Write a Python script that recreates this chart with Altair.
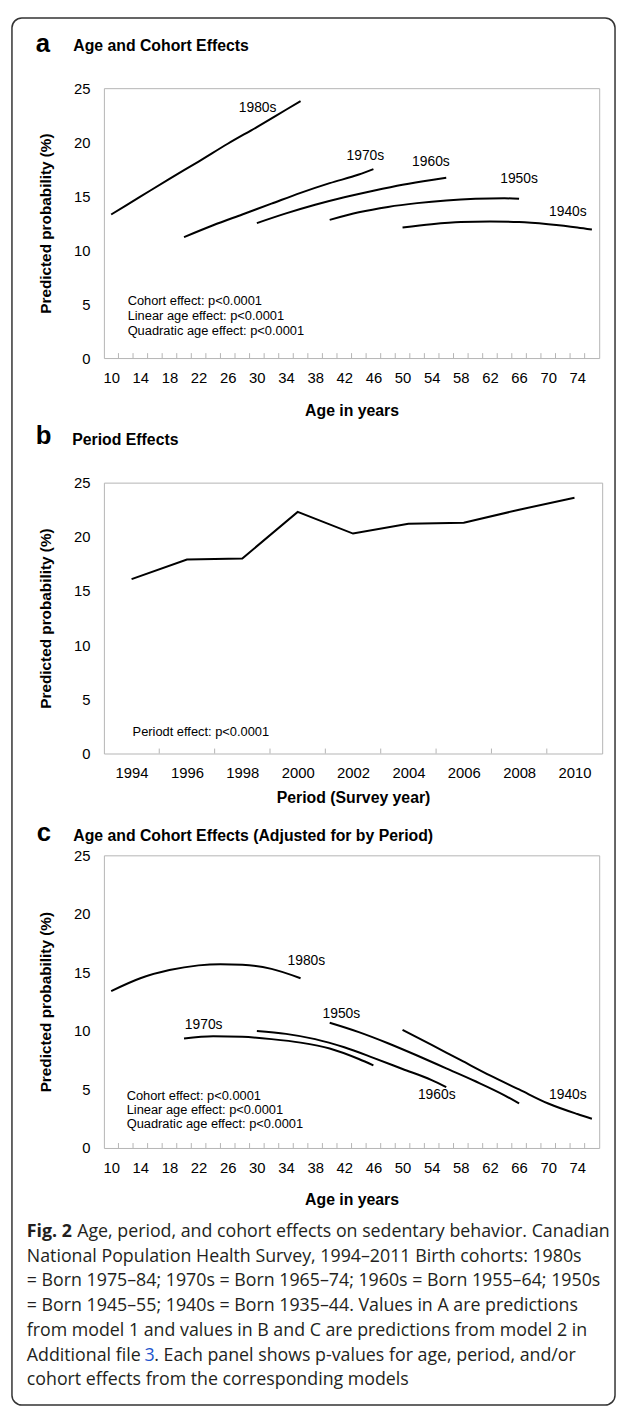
import altair as alt
import pandas as pd

AX_FONT = "Liberation Sans"
CAP_FONT = "Open Sans"
FRAME = "#b4b4b4"
CAP_COLOR = "#231f20"

# ---------------- axis values ----------------
AGE_LABELS = [10, 14, 18, 22, 26, 30, 34, 38, 42, 46, 50, 54, 58, 62, 66, 70, 74]
AGE_TICKS = [11, 13, 15, 17, 19, 21, 23, 25, 27, 29, 31, 33, 35, 37, 39, 41, 43,
             45, 47, 49, 51, 53, 55, 57, 59, 61, 63, 65, 67, 69, 71, 73, 75]
PROB_TICKS = [0, 5, 10, 15, 20, 25]
YEAR_LABELS = [1994, 1996, 1998, 2000, 2002, 2004, 2006, 2008, 2010]
YEAR_TICKS = [1995, 1997, 1999, 2001, 2003, 2005, 2007, 2009]

# ---------------- panel a: age and cohort effects ----------------
A_1980S_AGE = [10, 14, 18, 22, 26, 30, 34, 36]
A_1980S_VAL = [13.3, 14.95, 16.6, 18.2, 19.85, 21.4, 23.0, 23.8]
A_1970S_AGE = [20, 24, 28, 32, 36, 40, 44, 46]
A_1970S_VAL = [11.2, 12.3, 13.3, 14.3, 15.3, 16.2, 17.0, 17.5]
A_1960S_AGE = [30, 34, 38, 42, 46, 50, 54, 56]
A_1960S_VAL = [12.5, 13.4, 14.2, 14.9, 15.5, 16.05, 16.5, 16.7]
A_1950S_AGE = [40, 44, 48, 52, 56, 60, 64, 66]
A_1950S_VAL = [12.8, 13.5, 14.0, 14.35, 14.6, 14.75, 14.8, 14.75]
A_1940S_AGE = [50, 54, 58, 62, 66, 70, 74, 76]
A_1940S_VAL = [12.1, 12.4, 12.6, 12.65, 12.6, 12.4, 12.1, 11.9]

A_LABEL_TEXT = ["1980s", "1970s", "1960s", "1950s", "1940s"]
A_LABEL_AGE = [30.1, 44.9, 53.9, 66.0, 72.7]
A_LABEL_VAL = [23.2, 18.7, 18.2, 16.6, 13.5]

# ---------------- panel b: period effects ----------------
B_YEAR = [1994, 1996, 1998, 2000, 2002, 2004, 2006, 2008, 2010]
B_VAL = [16.1, 17.9, 18.0, 22.3, 20.3, 21.2, 21.3, 22.5, 23.6]

# ---------------- panel c: age and cohort, adjusted for period ----------------
C_1980S_AGE = [10, 14, 18, 22, 25, 28, 32, 36]
C_1980S_VAL = [13.4, 14.5, 15.2, 15.6, 15.7, 15.65, 15.3, 14.5]
C_1970S_AGE = [20, 24, 28, 32, 36, 40, 44, 46]
C_1970S_VAL = [9.35, 9.55, 9.5, 9.3, 9.0, 8.5, 7.6, 7.05]
C_1960S_AGE = [30, 34, 38, 42, 46, 50, 54, 56]
C_1960S_VAL = [10.0, 9.75, 9.3, 8.6, 7.7, 6.75, 5.8, 5.2]
C_1950S_AGE = [40, 44, 48, 52, 56, 60, 64, 66]
C_1950S_VAL = [10.7, 9.9, 8.95, 7.9, 6.8, 5.7, 4.5, 3.8]
C_1940S_AGE = [50, 54, 58, 62, 66, 70, 74, 76]
C_1940S_VAL = [10.1, 8.8, 7.5, 6.2, 5.0, 3.8, 2.9, 2.5]

C_LABEL_TEXT = ["1980s", "1970s", "1960s", "1950s", "1940s"]
C_LABEL_AGE = [36.8, 22.7, 54.7, 41.6, 72.7]
C_LABEL_VAL = [16.0, 10.5, 4.5, 11.4, 4.5]

NOTES_AC = ["Cohort effect: p<0.0001", "Linear age effect: p<0.0001",
            "Quadratic age effect: p<0.0001"]
NOTE_B = "Periodt effect: p<0.0001"

CAP_BOLD = "Fig. 2"
CAP_FIRST = "Age, period, and cohort effects on sedentary behavior. Canadian"
CAPTION = [
    "National Population Health Survey, 1994\u20132011 Birth cohorts: 1980s",
    "= Born 1975\u201384; 1970s = Born 1965\u201374; 1960s = Born 1955\u201364; 1950s",
    "= Born 1945\u201355; 1940s = Born 1935\u201344. Values in A are predictions",
    "from model 1 and values in B and C are predictions from model 2 in",
]
CAP_L6 = ["Additional file ", "3", ". Each panel shows p-values for age, period, and/or"]
CAP_LAST = "cohort effects from the corresponding models"


def long_df(ages_list, vals_list, names):
    rows = []
    for name, ages, vals in zip(names, ages_list, vals_list):
        for a, v in zip(ages, vals):
            rows.append({"cohort": name, "age": a, "prob": v})
    return pd.DataFrame(rows)


COH = ["1980s", "1970s", "1960s", "1950s", "1940s"]
df_a = long_df([A_1980S_AGE, A_1970S_AGE, A_1960S_AGE, A_1950S_AGE, A_1940S_AGE],
               [A_1980S_VAL, A_1970S_VAL, A_1960S_VAL, A_1950S_VAL, A_1940S_VAL], COH)
df_c = long_df([C_1980S_AGE, C_1970S_AGE, C_1960S_AGE, C_1950S_AGE, C_1940S_AGE],
               [C_1980S_VAL, C_1970S_VAL, C_1960S_VAL, C_1950S_VAL, C_1940S_VAL], COH)
lab_a = pd.DataFrame({"label": A_LABEL_TEXT, "age": A_LABEL_AGE, "prob": A_LABEL_VAL})
lab_c = pd.DataFrame({"label": C_LABEL_TEXT, "age": C_LABEL_AGE, "prob": C_LABEL_VAL})
df_b = pd.DataFrame({"year": B_YEAR, "prob": B_VAL})
dummy = pd.DataFrame({"d": [0]})

W_A, H_A = 501, 273
W_B, H_B = 504, 274
W_C, H_C = 501, 296


def x_axis(values, title, title_pad, label_pad):
    return alt.Axis(values=values, title=title, format="d", labelFont=AX_FONT,
                    labelFontSize=15, labelColor="black", labelPadding=label_pad,
                    ticks=False, domain=False, grid=False, labelOverlap=False,
                    labelFlush=False, titleFont=AX_FONT, titleFontSize=16,
                    titleFontWeight="bold", titleColor="black", titlePadding=title_pad)


Y_AXIS = alt.Axis(values=PROB_TICKS, title="Predicted probability (%)",
                  labelFont=AX_FONT, labelFontSize=15, labelColor="black",
                  labelPadding=14, ticks=False, domain=False, grid=False,
                  titleFont=AX_FONT, titleFontSize=15.5, titleFontWeight="bold",
                  titleColor="black", titlePadding=20)
Y_SCALE = alt.Scale(domain=[0, 25], nice=False)


def txt(text, x, y, size, weight="normal", font=AX_FONT, color="black",
        align="left", baseline="middle"):
    return alt.Chart(dummy).mark_text(
        text=text, font=font, fontSize=size, fontWeight=weight, color=color,
        align=align, baseline=baseline
    ).encode(x=alt.value(x), y=alt.value(y))


def age_panel(df, lab, h, title_pad):
    xs = alt.Scale(domain=[9, 77], nice=False, zero=False)
    xax = x_axis(AGE_LABELS, "Age in years", title_pad, 13)
    x_enc = alt.X("age:Q", scale=xs, axis=xax)
    y_enc = alt.Y("prob:Q", scale=Y_SCALE, axis=Y_AXIS)
    lines = alt.Chart(df).mark_line(color="black", strokeWidth=2,
                                    interpolate="monotone").encode(
        x=x_enc, y=y_enc, detail="cohort:N")
    ticks = alt.Chart(pd.DataFrame({"age": AGE_TICKS})).mark_rule(
        color=FRAME, strokeWidth=1
    ).encode(x=x_enc, y=alt.value(h), y2=alt.value(h - 5))
    labels = alt.Chart(lab).mark_text(font=AX_FONT, fontSize=14, color="black").encode(
        x=x_enc, y=y_enc, text="label:N")
    return [lines, ticks, labels]


# ---------- panel a ----------
layers_a = age_panel(df_a, lab_a, H_A, 17)
box = alt.Chart(dummy).mark_rect(
    filled=False, stroke="#333333", strokeWidth=1.5, cornerRadius=10
).encode(x=alt.value(-93), x2=alt.value(517), y=alt.value(-71), y2=alt.value(1332))
panel_a = alt.layer(
    *layers_a,
    txt("a", -69, -37, 26, "bold", baseline="alphabetic"),
    txt("Age and Cohort Effects", -31, -38, 16, "bold", baseline="alphabetic"),
    txt(NOTES_AC[0], 24, 215, 13),
    txt(NOTES_AC[1], 24, 230, 13),
    txt(NOTES_AC[2], 24, 246, 13),
    box,
).properties(width=W_A, height=H_A)

# ---------- panel b ----------
xb_enc = alt.X("year:Q", scale=alt.Scale(domain=[1993, 2011], nice=False, zero=False),
               axis=x_axis(YEAR_LABELS, "Period (Survey year)", 10, 12))
line_b = alt.Chart(df_b).mark_line(color="black", strokeWidth=2).encode(
    x=xb_enc, y=alt.Y("prob:Q", scale=Y_SCALE, axis=Y_AXIS))
ticks_b = alt.Chart(pd.DataFrame({"year": YEAR_TICKS})).mark_rule(
    color=FRAME, strokeWidth=1
).encode(x=xb_enc, y=alt.value(H_B), y2=alt.value(H_B - 5))
panel_b = alt.layer(
    line_b, ticks_b,
    txt("b", -69, -39, 26, "bold", baseline="alphabetic"),
    txt("Period Effects", -32, -38, 16, "bold", baseline="alphabetic"),
    txt(NOTE_B, 29, 252, 13),
).properties(width=W_B, height=H_B)

# ---------- panel c + caption ----------
layers_c = age_panel(df_c, lab_c, H_C, 16)
cap_y0 = 381
cap_dy = 25
cap_x = -78
CS = 18
cap_layers = [
    txt(CAP_BOLD, cap_x, cap_y0, CS, "bold", font=CAP_FONT, color=CAP_COLOR),
    txt(CAP_FIRST, -27, cap_y0, CS, font=CAP_FONT, color=CAP_COLOR),
]
for i, line in enumerate(CAPTION):
    cap_layers.append(txt(line, cap_x, cap_y0 + cap_dy * (i + 1), CS, font=CAP_FONT,
                          color=CAP_COLOR))
cap_layers += [
    txt(CAP_L6[0], cap_x, cap_y0 + cap_dy * 5, CS, font=CAP_FONT, color=CAP_COLOR),
    txt(CAP_L6[1], 41, cap_y0 + cap_dy * 5, CS, font=CAP_FONT, color="#2255cc"),
    txt(CAP_L6[2], 51, cap_y0 + cap_dy * 5, CS, font=CAP_FONT, color=CAP_COLOR),
    txt(CAP_LAST, cap_x, cap_y0 + cap_dy * 6, CS, font=CAP_FONT, color=CAP_COLOR),
]
panel_c = alt.layer(
    *layers_c,
    txt("c", -68, -15, 26, "bold", baseline="alphabetic"),
    txt("Age and Cohort Effects (Adjusted for by Period)", -31, -15, 16, "bold",
        baseline="alphabetic"),
    txt(NOTES_AC[0], 23, 243, 13),
    txt(NOTES_AC[1], 23, 258, 13),
    txt(NOTES_AC[2], 23, 272, 13),
    *cap_layers,
).properties(width=W_C, height=H_C)


def spacer(h):
    return alt.Chart(dummy).mark_point(opacity=0).encode(
        x=alt.value(0), y=alt.value(0)
    ).properties(width=W_A, height=h, view=alt.ViewBackground(stroke="transparent"))


chart = alt.vconcat(
    panel_a, spacer(126), panel_b, spacer(103), panel_c,
    spacing=0, bounds="flush",
).properties(
    padding={"left": 2, "top": 0, "right": 0, "bottom": 0},
    background="white",
).configure_view(stroke=FRAME, strokeWidth=1)

chart.save("out.html", embed_options={"renderer": "svg", "actions": False})
